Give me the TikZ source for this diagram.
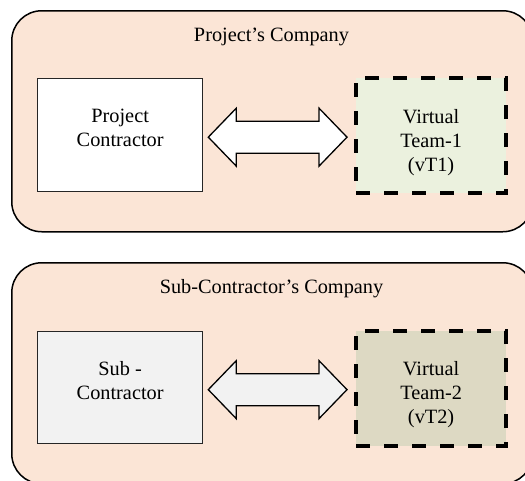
\documentclass[tikz,border=0pt]{standalone}
\usepackage{fontspec}
\setmainfont{Liberation Serif}
\usetikzlibrary{calc}
\definecolor{peach}{HTML}{FBE5D6}
\definecolor{palegreen}{HTML}{EBF1DE}
\definecolor{lightgrey}{HTML}{F2F2F2}
\definecolor{khaki}{HTML}{DDD9C3}

% two-headed block arrow between the east side of #1 and the west side of #2
\newcommand\twoway[3]{%
  \draw[blockarrow, fill=#3] let \p1=(#1.east), \p2=(#2.west) in
    (\x1+5pt,\y1-2pt)
    -- (\x1+33pt,\y1-2pt+29pt) -- (\x1+33pt,\y1-2pt+16pt)
    -- (\x2-35pt,\y1-2pt+16pt) -- (\x2-35pt,\y1-2pt+29pt)
    -- (\x2-7pt,\y1-2pt)
    -- (\x2-35pt,\y1-2pt-29pt) -- (\x2-35pt,\y1-2pt-16pt)
    -- (\x1+33pt,\y1-2pt-16pt) -- (\x1+33pt,\y1-2pt-29pt)
    -- cycle;}

\begin{document}
\begin{tikzpicture}[x=1pt,y=-1pt,
  company/.style={draw=black, line width=1.5pt, fill=peach, rounded corners=30pt,
    rectangle, anchor=north west, inner sep=0pt, minimum width=521pt, minimum height=221pt},
  party/.style={draw=black!85, line width=1.3pt, rectangle, anchor=north west,
    inner sep=0pt, minimum width=165pt, minimum height=113pt},
  team/.style={draw=black, line width=4.2pt, dash pattern=on 14pt off 14pt, rectangle,
    anchor=north west, inner sep=0pt, minimum width=150pt, minimum height=115pt},
  txt/.style={font=\fontsize{20.3}{24.3}\selectfont, align=center, inner sep=0pt},
  blockarrow/.style={draw=black, line width=1.3pt, line join=miter}
]
\useasboundingbox (0,0) rectangle (525,480);

% upper company
\node[company] (pco) at (11,10) {};
\node[txt, anchor=base] (pcot) at (271.5,41.5) {Project’s Company};
\node[party, fill=white] (pc) at (37,78) {};
\node[team, fill=palegreen] (vt1) at (354,76) {};
\node[txt, anchor=north] (pctx) at (pc.north |- 0,109) {Project\\Contractor};
\node[txt, anchor=north] (vt1tx) at (vt1.north |- 0,109) {Virtual\\Team-1\\(vT1)};
\twoway{pc}{vt1}{white}

% lower company
\node[company] (sco) at (11,262) {};
\node[txt, anchor=base] (scot) at (271.5,293) {Sub-Contractor’s Company};
\node[party, fill=lightgrey, minimum height=112pt] (sc) at (37,331) {};
\node[team, fill=khaki] (vt2) at (354,329) {};
\node[txt, anchor=north] (sctx) at (sc.north |- 0,361) {Sub -\\Contractor};
\node[txt, anchor=north] (vt2tx) at (vt2.north |- 0,361) {Virtual\\Team-2\\(vT2)};
\twoway{sc}{vt2}{lightgrey}
\end{tikzpicture}
\end{document}
